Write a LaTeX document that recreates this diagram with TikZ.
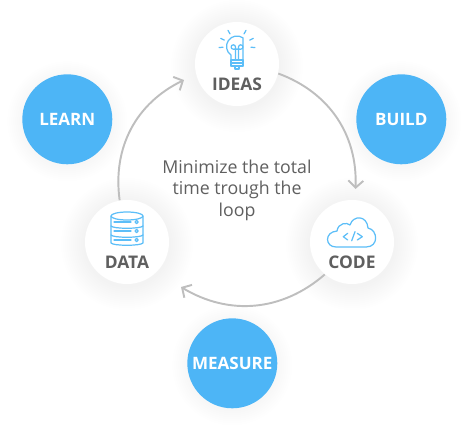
\documentclass[tikz,border=0pt]{standalone}
\usepackage{fontspec}
\setmainfont{Open Sans}
\usetikzlibrary{arrows.meta,backgrounds,calc}
\definecolor{myblue}{RGB}{77,181,246}
\definecolor{myicon}{RGB}{92,190,248}
\definecolor{mygray}{RGB}{95,95,95}
\definecolor{myline}{RGB}{190,190,190}
\tikzset{
  stage/.style={circle, fill=white, minimum size=1.68cm, inner sep=0pt},
  phase/.style={circle, fill=myblue, minimum size=1.8cm, inner sep=0pt, text=white, font=\fontsize{9.7}{11}\selectfont\bfseries},
  stagetext/.style={text=mygray, font=\fontsize{9.9}{11}\selectfont\bfseries, inner sep=0pt},
  flow/.style={draw=myline, line width=1.1pt, -{Straight Barb[length=4pt,width=8.5pt,line width=1.1pt]}},
  icon/.style={draw=myicon, line width=.7pt, line cap=round, line join=round},
  halo/.style={fill=black, fill opacity=.004, draw=none}
}
\begin{document}
\begin{tikzpicture}[x=0.02cm,y=0.02cm]
\useasboundingbox (0,0) rectangle (475,437);

\node[phase] (learn) at (67.3,317.7) {LEARN};
\node[phase] (build) at (401.3,317.7) {BUILD};
\node[phase] (measure) at (232.3,73.7) {MEASURE};

\node[stage] (ideas) at (237,373) {};
\node[stage] (code) at (352,195) {};
\node[stage] (data) at (127,195) {};

\node[stagetext] (ideastext) at ($(ideas)+(0,-20)$) {IDEAS};
\node[stagetext] (codetext) at ($(code)+(0,-20)$) {CODE};
\node[stagetext] (datatext) at ($(data)+(0,-20)$) {DATA};

\node[text=mygray, align=center, inner sep=0pt, font=\fontsize{10.1}{12.2}\selectfont] (note) at (237,247)
  {Minimize the total\\time trough the\\loop};

\coordinate (codetip) at (355.5,248);
\coordinate (datatip) at (181,150);
\coordinate (ideastip) at (184,357);

\begin{scope}[on background layer]
  \foreach \n in {ideas,code,data}{
    \foreach \r in {44,46,...,66}{
      \fill[halo] ($(\n)+(0,-2)$) circle (\r);
    }
  }
  \foreach \n in {learn,build,measure}{
    \foreach \r in {46,48,...,60}{
      \fill[halo] ($(\n)+(0,-2)$) circle (\r);
    }
  }
  \draw[flow] (ideas.-13) to[bend left=36] (codetip);
  \draw[flow] (code.-130) to[bend left=36] (datatip);
  \draw[flow] (data.100) to[bend left=36] (ideastip);
\end{scope}

% bulb
\begin{scope}[shift={(ideas)}]
  \draw[icon] (-6,4) -- (-6,8.9) arc (-124.8:-360+55.2:10.5) -- (6,4);
  \draw[icon] (-6,4) -- (6,4) (-6,1) -- (6,1) (-6,-2) -- (6,-2);
  \draw[icon] (-6,4) -- (-6,-2) (6,4) -- (6,-2);
  \draw[icon] (-2,-2) -- (-2,-5) -- (2,-5) -- (2,-2);
  \draw[icon] (-1.5,4) -- (-1.5,17) arc (0:270:2.2) -- (3,14.8);
  \draw[icon] (1.5,4) -- (1.5,17) arc (180:-90:2.2) -- (-3,14.8);
  \foreach \a in {-5,25,60,120,155,185}{
    \draw[icon] ($(0,18)+(\a:14)$) -- ($(0,18)+(\a:18)$);
  }
\end{scope}

% cloud
\begin{scope}[shift={(code)}]
  \draw[icon] (-16,-5) .. controls (-27,-5) and (-28,10) .. (-15,11)
    .. controls (-14,19) and (-5,20) .. (-2,17)
    .. controls (1,27) and (15,27) .. (16,14)
    .. controls (26,12) and (27,-5) .. (14,-5) -- cycle;
  \draw[icon] (-4.3,8.7) -- (-8.7,5.3) -- (-4.3,2);
  \draw[icon] (3,10.3) -- (-0.3,1.3);
  \draw[icon] (5.3,8.7) -- (10.3,5.3) -- (5.3,2);
\end{scope}

% database
\begin{scope}[shift={(data)}]
  \draw[icon] (0,26) ellipse (16 and 4);
  \draw[icon] (-16,26) -- (-16,-1) .. controls (-14,-4) and (14,-4) .. (16,-1) -- (16,26);
  \draw[icon] (-16,16) .. controls (-14,13) and (14,13) .. (16,16);
  \draw[icon] (-16,7) .. controls (-14,4) and (14,4) .. (16,7);
  \foreach \y in {20,11,2}{
    \draw[icon] (9.7,\y) circle (1.6);
    \draw[icon] (-13,\y) -- (4,\y);
  }
\end{scope}

\end{tikzpicture}
\end{document}
